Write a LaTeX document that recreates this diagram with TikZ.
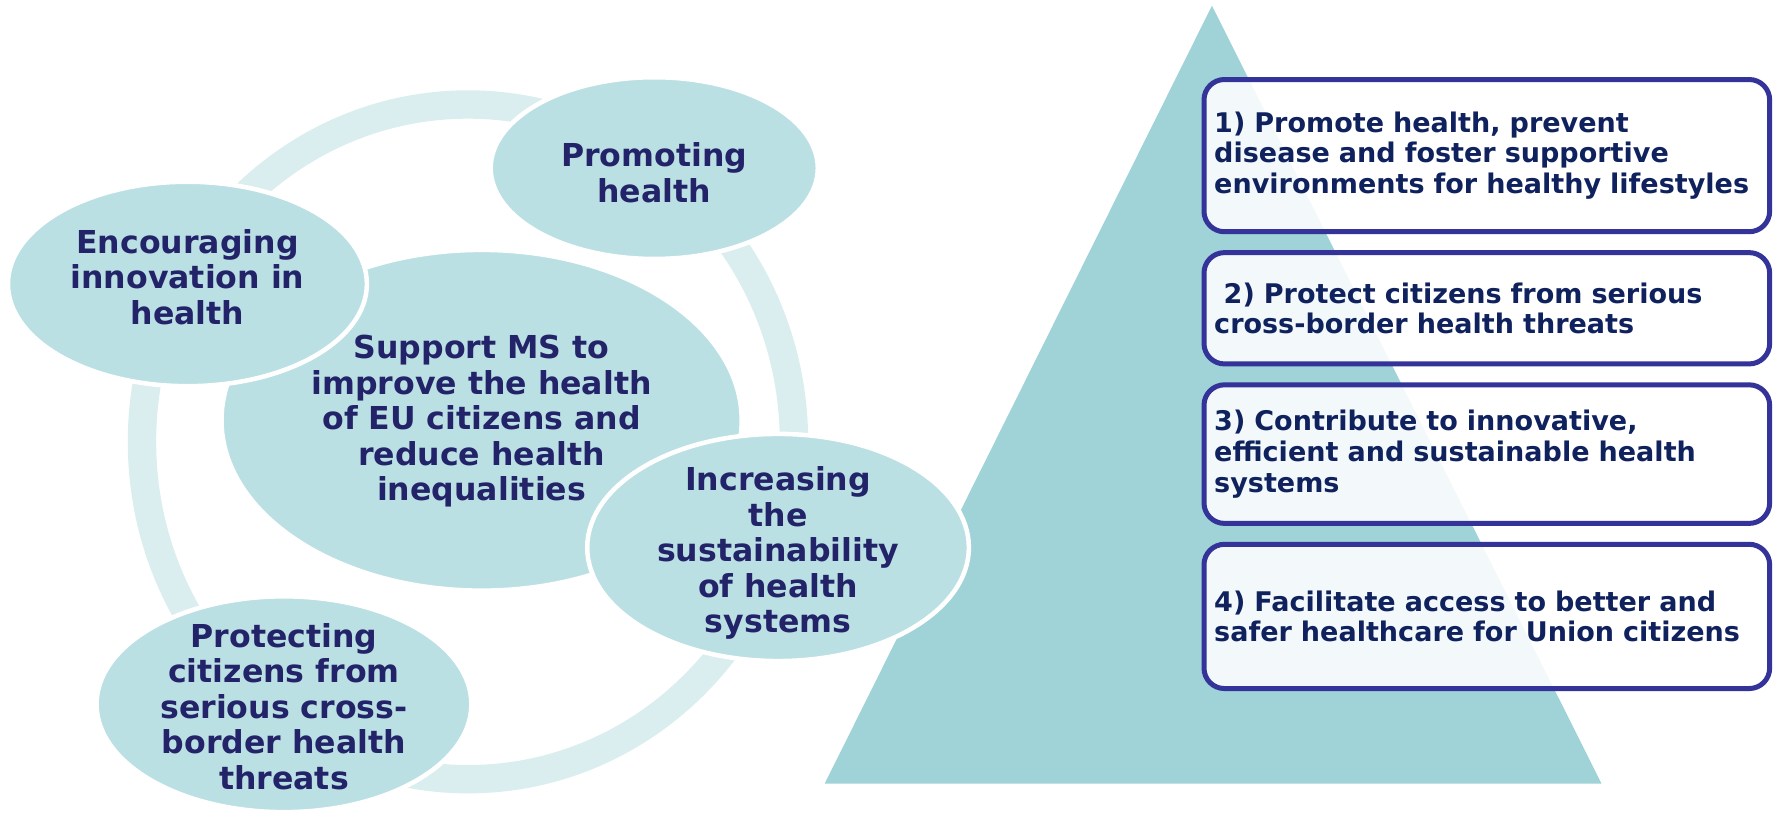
\documentclass[tikz,border=0pt]{standalone}
\usepackage{fontspec}
\setmainfont{DejaVu Sans}
\usetikzlibrary{positioning,shapes.geometric}
\newcommand\jline[1]{\makebox[\hsize][s]{#1}}

\begin{document}
\begin{tikzpicture}[x=1pt,y=-1pt]
            \definecolor{rng}{RGB}{218,237,239}
            \definecolor{bub}{RGB}{187,224,227}
            \definecolor{tri}{RGB}{159,211,215}
            \definecolor{nvy}{RGB}{35,35,105}
            \definecolor{bxl}{RGB}{51,51,153}
            \definecolor{bxt}{RGB}{16,34,94}

            \useasboundingbox (0,0) rectangle (1568,715);

            \fill[tri] (1067,5) -- (1410,690) -- (726,690) -- cycle;
            \draw[rng,line width=25pt] (412,389) ellipse [x radius=287pt,y radius=297pt];

            \begin{scope}[
                every node/.style={ellipse,fill=bub,draw=white,line width=4pt,inner sep=0pt}
            ]
                \node (supp) [minimum width=458,minimum height=300] at (424,370) {};
                \node (prom) [minimum width=288,minimum height=160] at (576,148) {};
                \node (enc)  [minimum width=316,minimum height=180] at (165,250) {};
                \node (incr) [minimum width=336,minimum height=200] at (685,482) {};
                \node (prot) [minimum width=330,minimum height=190] at (250,620) {};
            \end{scope}

            \begin{scope}[
                every node/.style={align=center,text=nvy,inner sep=0pt,
                    font=\fontsize{27.8}{31.3}\selectfont\bfseries}
            ]
                \node (suppt) at ([yshift=-1pt]supp.center) {Support MS to\\improve the health\\of EU citizens and\\reduce health\\inequalities};
                \node (promt) at ([yshift=-4pt]prom.center) {Promoting\\health};
                \node (enct)  at ([yshift=6pt]enc.center)   {Encouraging\\innovation in\\health};
                \node (incrt) at ([yshift=-5pt]incr.center) {Increasing\\the\\sustainability\\of health\\systems};
                \node (prott) at ([yshift=-2pt]prot.center) {Protecting\\citizens from\\serious cross-\\border health\\threats};
            \end{scope}

            \begin{scope}[
                node distance=14pt,
                every node/.style={draw=bxl,line width=4.4pt,rounded corners=18pt,
                    fill=white,fill opacity=0.88,text opacity=1,text=bxt,
                    text width=480pt,inner xsep=9pt,inner ysep=0pt,align=left,
                    font=\fontsize{23.8}{27}\selectfont\bfseries}
            ]
                \node (o1) [minimum height=134] at (1309,137)
                    {\jline{1) Promote health, prevent}\\\jline{disease and foster supportive}\\environments for healthy lifestyles};
                \node (o2) [below=of o1,minimum height=98]
                    {\jline{\hspace*{0.35em}2) Protect citizens from serious}\\cross-border health threats};
                \node (o3) [below=of o2,minimum height=122]
                    {\jline{3) Contribute to innovative,}\\\jline{efficient and sustainable health}\\systems};
                \node (o4) [below=of o3,minimum height=127]
                    {\jline{4) Facilitate access to better and}\\safer healthcare for Union citizens};
            \end{scope}
\end{tikzpicture}
\end{document}
